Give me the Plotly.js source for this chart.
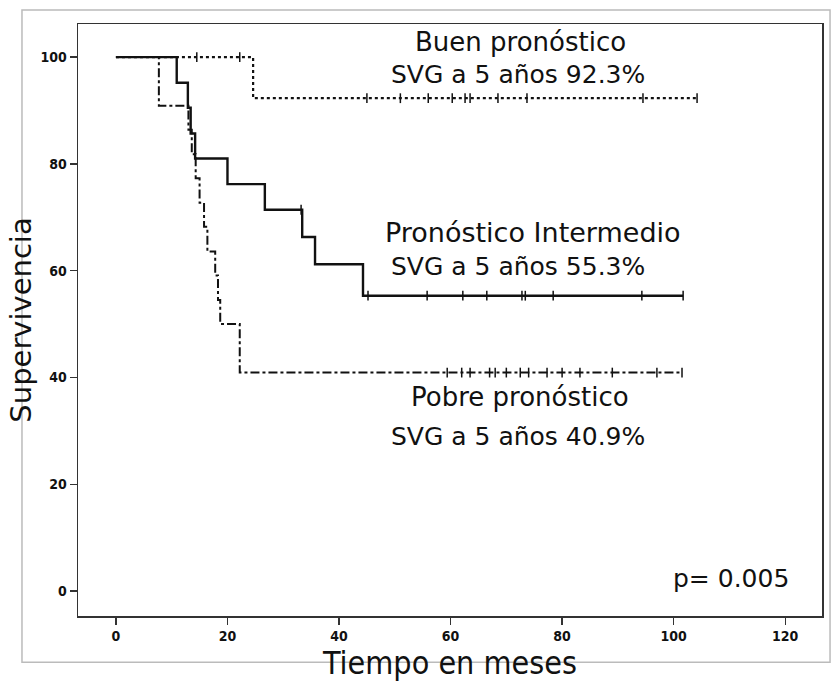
<!DOCTYPE html>
<html><head><meta charset="utf-8">
<script src="https://cdn.plot.ly/plotly-3.0.1.min.js"></script>
<style>html,body{margin:0;padding:0;background:#fff;}#chart{width:831px;height:684px;}</style>
</head><body><div id="chart"></div>
<script>
// Kaplan-Meier step data (time in months, survival %)
const buenoTime = [0, 24.6, 104.2];
const buenoSurv = [100, 92.3, 92.3];
const buenoCens = [14.5, 22.2, 45, 51, 56, 60.3, 62.6, 63.5, 68.5, 73.7, 94.5, 104.2];

const interTime = [0, 10.9, 12.9, 13.4, 14.2, 20.0, 26.7, 33.4, 35.7, 44.3, 101.7];
const interSurv = [100, 95.2, 90.5, 85.7, 81.0, 76.2, 71.4, 66.3, 61.2, 55.3, 55.3];
const interCens = [33.2, 45.2, 55.8, 62.2, 66.5, 72.8, 73.4, 78.4, 94.3, 101.7];

const pobreTime = [0, 7.7, 13.0, 13.6, 14.3, 15.0, 15.8, 16.4, 17.8, 18.3, 18.7, 22.2, 101.5];
const pobreSurv = [100, 90.9, 86.4, 81.8, 77.3, 72.7, 68.2, 63.6, 59.1, 54.5, 50.0, 40.9, 40.9];
const pobreCens = [59.4, 62, 63.5, 67, 68, 70, 72.5, 74, 77.3, 80, 83.2, 89, 97, 101.5];

const labels = {
  bueno: ["Buen pronóstico", "SVG a 5 años 92.3%"],
  inter: ["Pronóstico Intermedio", "SVG a 5 años 55.3%"],
  pobre: ["Pobre pronóstico", "SVG a 5 años 40.9%"]
};
const pValue = "p= 0.005";

function survAt(times, surv, t) {
  let s = surv[0];
  for (let i = 0; i < times.length; i++) { if (times[i] <= t) s = surv[i]; }
  return s;
}
function censY(times, surv, cens) { return cens.map(t => survAt(times, surv, t)); }

const ink = '#111';
const lineTrace = (x, y, dash, w) => ({x, y, type: 'scatter', mode: 'lines', line: {shape: 'hv', color: ink, width: w, dash}, hoverinfo: 'skip', showlegend: false});
const censTrace = (x, y) => ({x, y, type: 'scatter', mode: 'markers', marker: {symbol: 'line-ns', size: 7, line: {color: ink, width: 1.5}}, hoverinfo: 'skip', showlegend: false});

const data = [
  lineTrace(buenoTime, buenoSurv, 'dot', 2.2),
  censTrace(buenoCens, censY(buenoTime, buenoSurv, buenoCens)),
  lineTrace(pobreTime, pobreSurv, 'dashdot', 2),
  censTrace(pobreCens, censY(pobreTime, pobreSurv, pobreCens)),
  lineTrace(interTime, interSurv, 'solid', 2.4),
  censTrace(interCens, censY(interTime, interSurv, interCens))
];

const annFont = {family: 'DejaVu Sans, sans-serif', size: 25, color: ink};
const ann = (text, x, y, size) => ({text, x, y, xref: 'x', yref: 'y', showarrow: false, font: Object.assign({}, annFont, size ? {size} : {}), xanchor: 'center', yanchor: 'middle'});

const tickFont = {family: 'Liberation Sans Narrow, DejaVu Sans Condensed, Arial Narrow, sans-serif', size: 14, color: ink, weight: 'bold'};

const layout = {
  width: 831, height: 684,
  margin: {l: 78, r: 9, t: 24, b: 68},
  paper_bgcolor: '#fff', plot_bgcolor: '#fff',
  xaxis: {
    range: [-6.8, 126.6], tickvals: [0, 20, 40, 60, 80, 100, 120],
    ticks: 'outside', ticklen: 7, tickwidth: 1.3, tickcolor: '#333',
    showline: true, linecolor: '#333', linewidth: 1.5, mirror: true,
    showgrid: false, zeroline: false, tickfont: tickFont,
    title: {text: 'Tiempo en meses', font: {family: 'Liberation Sans Narrow, DejaVu Sans Condensed, sans-serif', size: 32, color: ink}, standoff: 4}
  },
  yaxis: {
    range: [-4.7, 106.2], tickvals: [0, 20, 40, 60, 80, 100],
    ticks: 'outside', ticklen: 7, tickwidth: 1.3, tickcolor: '#333',
    showline: true, linecolor: '#333', linewidth: 1.5, mirror: true,
    showgrid: false, zeroline: false, tickfont: tickFont,
    title: {text: 'Supervivencia', font: {family: 'DejaVu Sans, sans-serif', size: 29, color: ink}, standoff: 0}
  },
  annotations: [
    ann(labels.bueno[0], 72.5, 102.8, 26), ann(labels.bueno[1], 72.1, 96.8),
    ann(labels.inter[0], 74.8, 67.2, 27), ann(labels.inter[1], 72.1, 60.8),
    ann(labels.pobre[0], 72.5, 36.3, 26), ann(labels.pobre[1], 72.1, 29.0),
    ann(pValue, 110.3, 2.4)
  ],
  shapes: [{type: 'rect', xref: 'paper', yref: 'paper', x0: -0.0753, x1: 1.0108, y0: -0.078, y1: 1.0236, line: {color: '#bbb', width: 1.5}, layer: 'below'}]
};

Plotly.newPlot('chart', data, layout, {displayModeBar: false, staticPlot: true});
</script></body></html>
